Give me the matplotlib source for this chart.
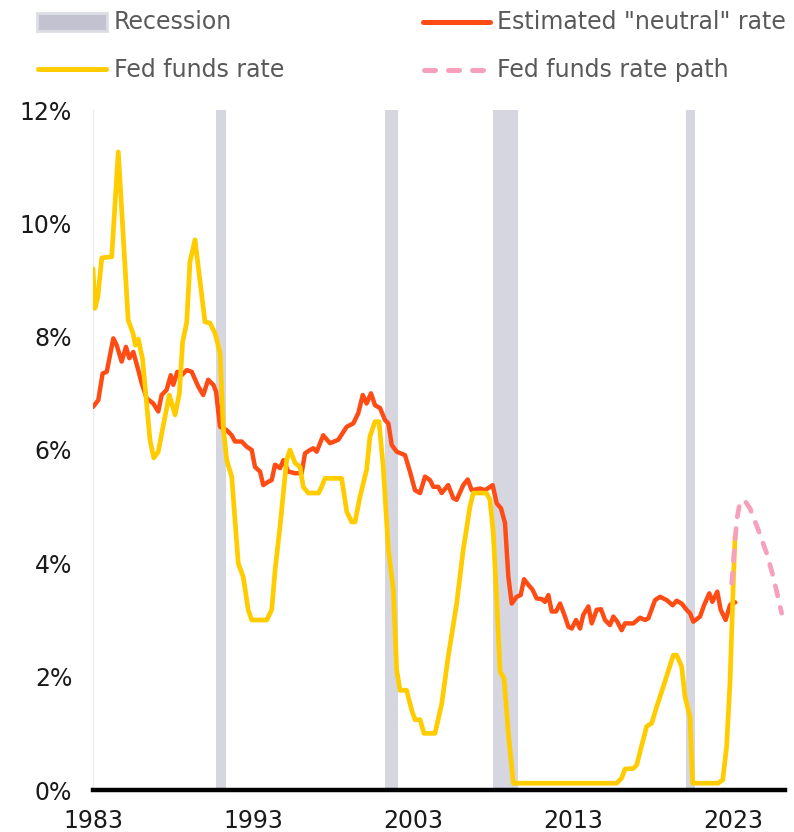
import matplotlib
matplotlib.use("Agg")
import matplotlib.pyplot as plt
from matplotlib.lines import Line2D
from matplotlib.patches import Rectangle

# ---------------- data ----------------
fed_years = [1983.0, 1983.12, 1983.3, 1983.55, 1984.17, 1984.58, 1985.2, 1985.5, 1985.65, 1985.83,
             1986.1, 1986.56, 1986.8, 1987.08, 1987.5, 1987.77, 1988.13, 1988.4, 1988.6, 1988.86,
             1989.06, 1989.375, 1990.0, 1990.31, 1990.63, 1990.94, 1991.14, 1991.36, 1991.67, 1992.08,
             1992.39, 1992.7, 1992.92, 1993.86, 1994.17, 1994.38, 1994.69, 1995.1, 1995.31, 1995.63,
             1995.94, 1996.14, 1996.46, 1997.1, 1997.29, 1997.5, 1998.54, 1998.86, 1999.17, 1999.375,
             1999.69, 2000.1, 2000.31, 2000.625, 2000.875, 2001.14, 2001.46, 2001.77, 2001.98, 2002.19,
             2002.6, 2002.92, 2003.125, 2003.44, 2003.69, 2004.375, 2004.8, 2005.2, 2005.73, 2006.14,
             2006.56, 2006.77, 2007.6, 2007.81, 2008.02, 2008.23, 2008.44, 2008.69, 2008.96, 2009.27,
             2015.73, 2016.04, 2016.25, 2016.77, 2016.98, 2017.6, 2017.92, 2018.23, 2018.64, 2019.27,
             2019.48, 2019.79, 2020.0, 2020.31, 2020.48, 2022.08, 2022.36, 2022.6, 2022.81, 2023.02,
             2023.125]
fed_rate = [9.2, 8.5, 8.7, 9.39, 9.41, 11.26, 8.29, 8.06, 7.85, 7.96,
            7.6, 6.18, 5.86, 5.97, 6.59, 6.97, 6.62, 7.0, 7.9, 8.26,
            9.32, 9.71, 8.26, 8.24, 8.06, 7.71, 6.41, 5.82, 5.53, 4.0,
            3.76, 3.18, 3.0, 3.0, 3.18, 3.88, 4.65, 5.82, 6.0, 5.77,
            5.7, 5.35, 5.24, 5.24, 5.35, 5.5, 5.5, 4.91, 4.73, 4.73,
            5.18, 5.65, 6.24, 6.5, 6.5, 5.7, 4.24, 3.53, 2.12, 1.76,
            1.76, 1.41, 1.24, 1.24, 1.0, 1.0, 1.53, 2.35, 3.29, 4.24,
            5.0, 5.24, 5.24, 5.12, 4.53, 3.35, 2.09, 1.97, 1.0, 0.12,
            0.12, 0.21, 0.37, 0.38, 0.44, 1.12, 1.18, 1.47, 1.82, 2.38,
            2.38, 2.18, 1.65, 1.29, 0.12, 0.12, 0.18, 0.76, 1.88, 3.65,
            4.47]

neutral_years = [1983.0, 1983.33, 1983.6, 1983.86, 1984.27, 1984.48, 1984.79, 1985.06, 1985.27, 1985.52,
                 1985.83, 1986.04, 1986.36, 1986.77, 1987.08, 1987.29, 1987.6, 1987.86, 1988.02, 1988.27,
                 1988.54, 1988.86, 1989.17, 1989.58, 1989.89, 1990.2, 1990.52, 1990.69, 1990.94, 1991.36,
                 1991.67, 1991.875, 1992.29, 1992.6, 1992.92, 1993.125, 1993.44, 1993.64, 1993.96, 1994.17,
                 1994.375, 1994.69, 1994.9, 1995.2, 1995.625, 1996.04, 1996.25, 1996.56, 1996.77, 1996.98,
                 1997.39, 1997.81, 1998.33, 1998.86, 1999.27, 1999.58, 1999.86, 2000.1, 2000.375, 2000.625,
                 2000.94, 2001.25, 2001.46, 2001.67, 2001.98, 2002.5, 2002.81, 2003.125, 2003.44, 2003.75,
                 2004.06, 2004.27, 2004.58, 2004.79, 2005.2, 2005.52, 2005.73, 2006.14, 2006.42, 2006.67,
                 2007.19, 2007.5, 2007.98, 2008.23, 2008.5, 2008.75, 2008.96, 2009.17, 2009.48, 2009.73,
                 2009.94, 2010.21, 2010.46, 2010.73, 2011.04, 2011.25, 2011.46, 2011.67, 2011.94, 2012.19,
                 2012.5, 2012.71, 2012.92, 2013.19, 2013.44, 2013.64, 2013.96, 2014.17, 2014.48, 2014.75,
                 2015.0, 2015.31, 2015.52, 2015.77, 2016.04, 2016.25, 2016.77, 2017.19, 2017.5, 2017.71,
                 2018.125, 2018.44, 2018.86, 2019.23, 2019.48, 2019.79, 2020.1, 2020.31, 2020.52, 2020.94,
                 2021.19, 2021.52, 2021.71, 2022.02, 2022.23, 2022.54, 2022.81, 2023.02, 2023.14]
neutral_rate = [6.76, 6.88, 7.35, 7.38, 7.97, 7.85, 7.56, 7.82, 7.62, 7.73,
                7.41, 7.18, 6.91, 6.82, 6.68, 6.97, 7.06, 7.32, 7.15, 7.38,
                7.32, 7.41, 7.38, 7.12, 6.97, 7.24, 7.15, 7.03, 6.41, 6.35,
                6.26, 6.15, 6.15, 6.06, 6.0, 5.7, 5.62, 5.38, 5.44, 5.47,
                5.74, 5.68, 5.82, 5.62, 5.59, 5.59, 5.94, 6.0, 6.03, 5.97,
                6.26, 6.12, 6.18, 6.41, 6.47, 6.65, 6.97, 6.82, 7.0, 6.79,
                6.74, 6.53, 6.47, 6.09, 5.97, 5.91, 5.62, 5.29, 5.24, 5.53,
                5.47, 5.35, 5.35, 5.24, 5.38, 5.15, 5.12, 5.38, 5.48, 5.29,
                5.32, 5.29, 5.38, 5.06, 4.97, 4.71, 3.76, 3.29, 3.41, 3.44,
                3.72, 3.62, 3.54, 3.38, 3.37, 3.32, 3.44, 3.15, 3.15, 3.29,
                3.06, 2.88, 2.85, 3.0, 2.85, 3.09, 3.24, 2.94, 3.18, 3.19,
                3.0, 2.91, 3.06, 2.97, 2.82, 2.94, 2.94, 3.04, 3.0, 3.03,
                3.35, 3.41, 3.35, 3.26, 3.34, 3.29, 3.18, 3.12, 2.97, 3.06,
                3.26, 3.47, 3.32, 3.5, 3.18, 3.0, 3.26, 3.32, 3.31]

path_years = [2022.92, 2023.23, 2023.44, 2023.75, 2024.06, 2024.58, 2025.1, 2025.52, 2026.04]
path_rate = [3.65, 4.76, 5.09, 5.1, 4.97, 4.59, 4.18, 3.76, 3.12]

recession_start = [1990.69, 2001.25, 2008.02, 2020.06]
recession_end = [1991.29, 2002.08, 2009.58, 2020.6]

x_ticks = [1983, 1993, 2003, 2013, 2023]
y_ticks = [0, 2, 4, 6, 8, 10, 12]
y_tick_labels = [f"{v}%" for v in y_ticks]

legend_labels = ["Recession", "Fed funds rate", 'Estimated "neutral" rate', "Fed funds rate path"]

# ---------------- style ----------------
YELLOW = "#FFCC00"
ORANGE = "#FF4B14"
PINK = "#F7A0BB"
REC = "#D6D6E0"
TXT = "#595959"

plt.rcParams['font.family'] = ['DejaVu Sans']

W, H = 794, 832
fig = plt.figure(figsize=(W / 100, H / 100), dpi=100)

def fx(px):
    return px / W

def fy(py):
    return 1 - py / H

ax = fig.add_axes([fx(93), fy(790), fx(785) - fx(93), fy(110) - fy(790)])

for s, e in zip(recession_start, recession_end):
    ax.axvspan(s, e, color=REC, lw=0, zorder=1)

ax.plot(neutral_years, neutral_rate, color=ORANGE, lw=3.2, solid_joinstyle='round',
        solid_capstyle='round', zorder=3)
ax.plot(fed_years, fed_rate, color=YELLOW, lw=3.4, solid_joinstyle='round',
        solid_capstyle='round', zorder=4)
ax.plot(path_years, path_rate, color=PINK, lw=3.4, linestyle=(0, (2.2, 2.5)),
        dash_capstyle='round', zorder=5)

ax.set_xlim(1983.0, 2026.25)
ax.set_ylim(0, 12)
ax.set_xticks(x_ticks)
ax.set_xticklabels([str(v) for v in x_ticks])
ax.set_yticks(y_ticks)
ax.set_yticklabels(y_tick_labels)
ax.tick_params(axis='both', length=0, labelsize=17, colors='#1a1a1a')
ax.tick_params(axis='y', pad=15)
ax.tick_params(axis='x', pad=14)

for side in ['top', 'right']:
    ax.spines[side].set_visible(False)
ax.spines['left'].set_color('#ececec')
ax.spines['left'].set_linewidth(1.0)
ax.spines['bottom'].set_color('black')
ax.spines['bottom'].set_linewidth(3.2)
ax.spines['bottom'].set_zorder(6)

# ---------------- legend (manual) ----------------
fig.add_artist(Rectangle((fx(37), fy(31)), fx(107) - fx(37), fy(13) - fy(31),
                         transform=fig.transFigure, facecolor='#C3C2D0',
                         edgecolor='#DDDDE6', lw=2.0))
fig.add_artist(Line2D([fx(38), fx(106)], [fy(69), fy(69)], transform=fig.transFigure,
                      color=YELLOW, lw=3.6, solid_capstyle='round'))
fig.add_artist(Line2D([fx(423), fx(490)], [fy(22), fy(22)], transform=fig.transFigure,
                      color=ORANGE, lw=3.6, solid_capstyle='round'))
fig.add_artist(Line2D([fx(424), fx(490)], [fy(70), fy(70)], transform=fig.transFigure,
                      color=PINK, lw=3.6, linestyle=(0, (2.2, 2.6)), dash_capstyle='round'))

fig.text(fx(114), fy(22), legend_labels[0], fontsize=17, color=TXT, va='center', ha='left')
fig.text(fx(114), fy(70), legend_labels[1], fontsize=17, color=TXT, va='center', ha='left')
fig.text(fx(497), fy(22), legend_labels[2], fontsize=17, color=TXT, va='center', ha='left')
fig.text(fx(497), fy(70), legend_labels[3], fontsize=17, color=TXT, va='center', ha='left')

fig.savefig("out.png", dpi=100)
